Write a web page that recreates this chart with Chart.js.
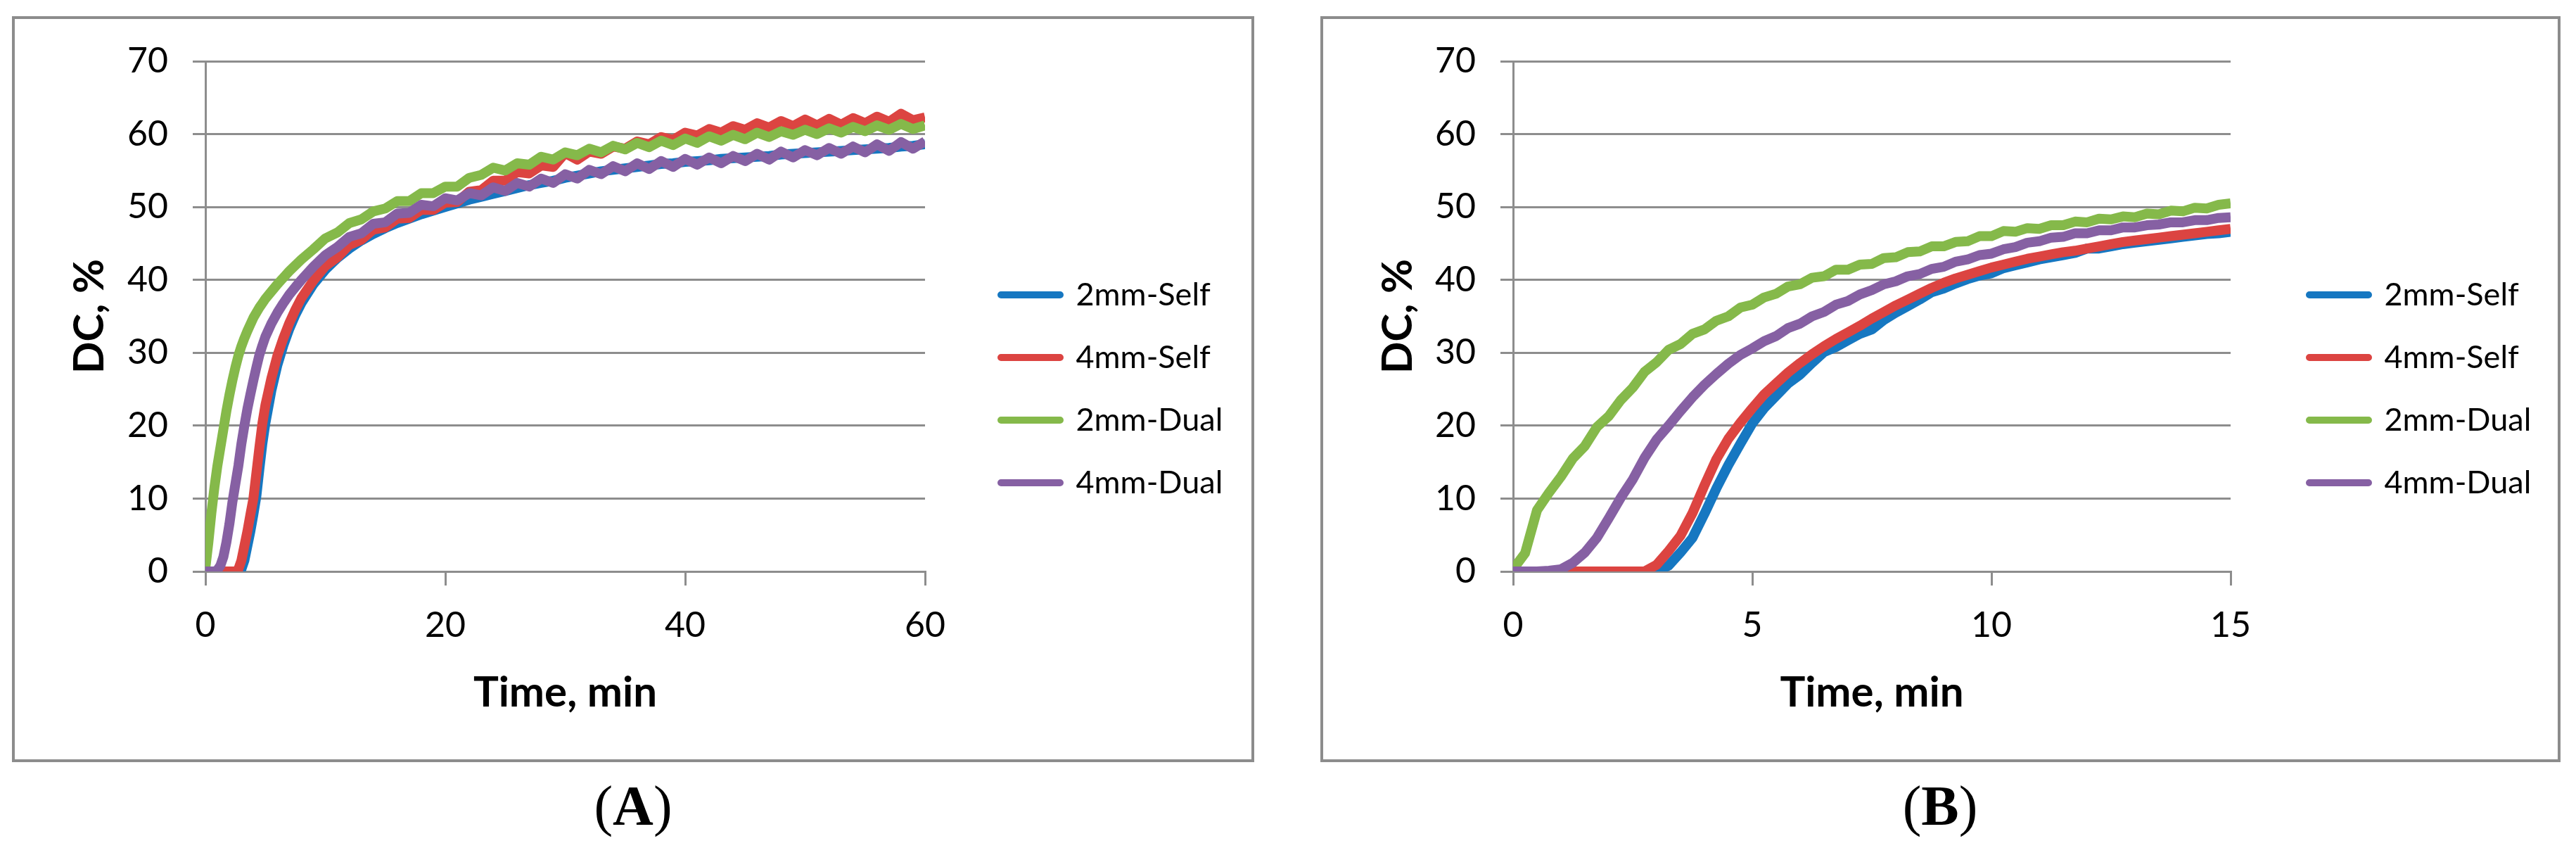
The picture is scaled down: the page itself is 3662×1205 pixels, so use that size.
<!DOCTYPE html>
<html>
<head>
<meta charset="utf-8">
<title>DC vs time</title>
<script src="https://cdn.jsdelivr.net/npm/chart.js@4.4.1/dist/chart.umd.min.js"></script>
<style>
  html, body { margin: 0; padding: 0; background: #fff; }
  body { width: 3662px; height: 1205px; position: relative; overflow: hidden; }
  .frame { position: absolute; top: 23px; height: 1052px; border: 4px solid #8c8c8c; background: #fff; }
  #frameA { left: 17px; width: 1758px; }
  #frameB { left: 1877px; width: 1755px; }
  .frame canvas { position: absolute; left: 0; top: 0; }
  .caption { position: absolute; top: 1105px; width: 400px; text-align: center; color: #000;
             font-family: "Liberation Serif", "Times New Roman", serif; font-size: 80px; line-height: 1; }
  #capA { left: 700px; }
  #capB { left: 2558px; }
</style>
</head>
<body>
<div class="frame" id="frameA"><canvas id="chartA" width="1758" height="995"></canvas></div>
<div class="frame" id="frameB"><canvas id="chartB" width="1755" height="995"></canvas></div>
<div class="caption" id="capA">(<b>A</b>)</div>
<div class="caption" id="capB">(<b>B</b>)</div>
<script>
// series
const seriesNames = ["2mm-Self", "4mm-Self", "2mm-Dual", "4mm-Dual"];
const seriesColors = ["#1677c1", "#dc4441", "#85b94a", "#8660a3"];

// axis ticks
const yTicks = [0, 10, 20, 30, 40, 50, 60, 70];
const xTicksA = [0, 20, 40, 60];
const xTicksB = [0, 5, 10, 15];

// panel A - time, min
const timeA = [0, 0.25, 0.5, 0.75, 1, 1.25, 1.5, 1.75, 2, 2.25, 2.5, 2.75, 3, 3.25, 3.5, 3.75, 4, 4.25, 4.5, 4.75, 5,
  5.5, 6, 6.5, 7, 7.5, 8,
  9, 10, 11, 12, 13, 14, 15, 16, 17, 18, 19, 20, 21, 22, 23, 24, 25, 26, 27, 28, 29, 30,
  31, 32, 33, 34, 35, 36, 37, 38, 39, 40, 41, 42, 43, 44, 45, 46, 47, 48, 49, 50,
  51, 52, 53, 54, 55, 56, 57, 58, 59, 60];

// panel A - DC, %
const self2A = [0, 0, 0, 0, 0, 0, 0, 0, 0, 0, 0, 0, 0.3, 1.5, 3.5, 5.5, 7.8, 10.3, 14, 17.5, 20.3,
  24.8, 28.3, 31, 33.3, 35.2, 36.8,
  39.4, 41.4, 43, 44.3, 45.4, 46.3, 47.1, 47.8, 48.4, 49, 49.5, 50,
  50.5, 51, 51.4, 51.8, 52.2, 52.6, 53, 53.3, 53.6, 54,
  54.3, 54.6, 54.9, 55.1, 55.3, 55.5, 55.7, 55.9, 56, 56.2,
  56.3, 56.4, 56.6, 56.7, 56.8, 56.9, 57, 57.2, 57.3, 57.4,
  57.5, 57.6, 57.7, 57.8, 57.9, 58, 58.1, 58.3, 58.4, 58.6];
const self4A = [0, 0, 0, 0, 0, 0, 0, 0, 0, 0, 0, 0.3, 1.5, 3.5, 5.5, 7.8, 10, 13.5, 17, 20.3, 22.8,
  26.5, 29.6, 32, 34.1, 35.9, 37.5,
  39.9, 41.9, 43.1, 44.8, 45.5, 46.9, 47.2, 48.4, 48.5, 49.6, 49.6, 50.6,
  50.7, 52.1, 52.3, 53.6, 53.6, 54.8, 54.6, 55.7, 55.5, 57.4,
  56.5, 57.6, 57.3, 58.3, 58, 59, 58.6, 59.6, 59.2, 60.2,
  59.8, 60.7, 60.2, 61.1, 60.6, 61.5, 60.9, 61.8, 61.1, 62,
  61.2, 62.1, 61.3, 62.2, 61.5, 62.4, 61.7, 62.8, 61.9, 62.3];
const dual2A = [0.5, 4, 8, 11.5, 14.5, 17, 19.5, 22, 24.2, 26.2, 28, 29.6, 30.9, 32, 33, 33.9, 34.8, 35.5, 36.2, 36.8, 37.4,
  38.4, 39.4, 40.3, 41.2, 42, 42.8,
  44.2, 45.7, 46.5, 47.8, 48.3, 49.4, 49.8, 50.8, 50.8, 51.9, 51.9, 52.8,
  52.8, 54, 54.4, 55.4, 55, 56, 55.8, 56.9, 56.5, 57.5,
  57.1, 58, 57.5, 58.4, 57.9, 58.8, 58.2, 59.1, 58.5, 59.4,
  58.8, 59.7, 59.1, 59.9, 59.3, 60.2, 59.6, 60.4, 59.9, 60.6,
  60, 60.8, 60.2, 61, 60.4, 61.2, 60.6, 61.4, 60.7, 61.2];
const dual4A = [0, 0, 0, 0, 0.2, 0.8, 2, 4, 6.5, 9.5, 12, 14.5, 17.5, 20, 22.3, 24.3, 26.2, 28, 29.7, 31, 32.2,
  34, 35.5, 36.8, 38, 39, 40,
  41.8, 43.4, 44.5, 45.9, 46.4, 47.7, 47.9, 49.1, 49.2, 50.3, 50.1, 51.2,
  50.9, 51.9, 51.6, 52.7, 52.2, 53.3, 52.8, 53.9, 53.3, 54.5,
  53.9, 55.1, 54.5, 55.6, 54.9, 56, 55.2, 56.3, 55.5, 56.6,
  55.8, 56.8, 56, 57, 56.3, 57.3, 56.5, 57.6, 56.8, 57.8,
  57.1, 58.1, 57.3, 58.3, 57.5, 58.6, 57.7, 58.9, 58, 59];

// panel B - time, min
const timeB = [0, 0.25, 0.5, 0.75, 1, 1.25, 1.5, 1.75, 2, 2.25, 2.5, 2.75, 3, 3.25, 3.5, 3.75,
  4, 4.25, 4.5, 4.75, 5, 5.25, 5.5, 5.75, 6, 6.25, 6.5, 6.75, 7, 7.25, 7.5, 7.75,
  8, 8.25, 8.5, 8.75, 9, 9.25, 9.5, 9.75, 10, 10.25, 10.5, 10.75, 11, 11.25, 11.5, 11.75,
  12, 12.25, 12.5, 12.75, 13, 13.25, 13.5, 13.75, 14, 14.25, 14.5, 14.75, 15];

// panel B - DC, %
const self2B = [0, 0, 0, 0, 0, 0, 0, 0, 0, 0, 0, 0, 0,
  0.8, 2.6, 4.6, 7.9, 11.4, 14.6, 17.5, 20.3, 22.4, 24.1, 25.8, 27.0, 28.6, 30.1, 30.8,
  31.7, 32.6, 33.2, 34.5, 35.5, 36.4, 37.3, 38.3, 38.8, 39.5, 40.1, 40.6, 40.9, 41.6, 42.0,
  42.4, 42.8, 43.1, 43.4, 43.7, 44.3, 44.3, 44.6, 44.9, 45.1, 45.3, 45.5, 45.7, 45.9, 46.1,
  46.3, 46.4, 46.6];
const self4B = [0, 0, 0, 0, 0, 0, 0, 0, 0, 0, 0, 0,
  0.9, 2.8, 4.9, 8.0, 11.8, 15.4, 18.2, 20.4, 22.4, 24.3, 25.8, 27.3, 28.6, 29.8, 30.9,
  31.9, 32.8, 33.7, 34.7, 35.6, 36.5, 37.3, 38.1, 38.9, 39.6, 40.2, 40.7, 41.2, 41.7, 42.1,
  42.5, 42.9, 43.2, 43.5, 43.8, 44.0, 44.3, 44.6, 44.9, 45.2, 45.4, 45.6, 45.8, 46.0, 46.2,
  46.4, 46.6, 46.8, 47.0];
const dual2B = [0.3, 2.5, 8.4, 10.8, 13.0, 15.5, 17.2, 19.8, 21.3, 23.5, 25.2, 27.4, 28.7, 30.4, 31.2, 32.6,
  33.2, 34.4, 35.0, 36.2, 36.6, 37.6, 38.1, 39.1, 39.4, 40.3, 40.5, 41.4, 41.4, 42.1, 42.2, 43.0,
  43.1, 43.8, 43.9, 44.6, 44.6, 45.2, 45.3, 46.0, 46.0, 46.7, 46.6, 47.1, 47.0, 47.5, 47.5, 48.0,
  47.9, 48.4, 48.3, 48.7, 48.6, 49.1, 49.0, 49.5, 49.4, 49.9, 49.8, 50.3, 50.5];
const dual4B = [0, 0, 0, 0.1, 0.3, 1.2, 2.6, 4.6, 7.3, 10.1, 12.6, 15.6, 18.1, 20.0, 22.0, 23.9,
  25.6, 27.1, 28.5, 29.7, 30.6, 31.6, 32.3, 33.4, 34.0, 35.0, 35.6, 36.6, 37.1, 38.0, 38.6, 39.4,
  39.8, 40.5, 40.8, 41.5, 41.8, 42.5, 42.8, 43.4, 43.6, 44.2, 44.5, 45.1, 45.3, 45.8, 45.9, 46.4,
  46.4, 46.8, 46.8, 47.2, 47.2, 47.5, 47.6, 47.9, 47.9, 48.2, 48.2, 48.5, 48.6];

const gridColor = "#8d8d8d";

function makePanel(canvasId, times, values, xTicks, geo) {
  const datasets = seriesNames.map((name, i) => ({
    label: name,
    data: times.map((t, j) => ({ x: t, y: values[i][j] })),
    borderColor: seriesColors[i],
    backgroundColor: seriesColors[i],
    borderWidth: 14,
    borderJoinStyle: "round",
    pointRadius: 0,
    fill: false,
    tension: 0,
    order: seriesNames.length - 1 - i   // last series on top, like the original
  }));

  const tickFont = { family: "Lato", size: 50, lineHeight: 1 };
  const titleFont = { family: "Lato", size: 60, weight: "bold", lineHeight: 1 };

  const chart = new Chart(document.getElementById(canvasId), {
    type: "line",
    data: { datasets: datasets },
    options: {
      responsive: false,
      animation: false,
      devicePixelRatio: 1,
      layout: { padding: { left: 0, top: 56, right: 0, bottom: 0 } },
      plugins: {
        tooltip: { enabled: false },
        legend: {
          position: "right",
          maxWidth: 420,
          labels: {
            boxWidth: 84,
            boxHeight: 0,
            padding: 44,
            color: "#000",
            font: { family: "Lato", size: 45 },
            sort: (a, b) => a.datasetIndex - b.datasetIndex,
            generateLabels: (chart) => {
              const items = Chart.defaults.plugins.legend.labels.generateLabels(chart);
              items.forEach(it => {
                it.lineWidth = 10;
                it.lineJoin = "round";
                it.lineCap = "round";
              });
              return items;
            }
          }
        }
      },
      scales: {
        x: {
          type: "linear",
          min: xTicks[0],
          max: xTicks[xTicks.length - 1],
          ticks: { stepSize: xTicks[1] - xTicks[0], padding: 32, color: "#000", font: tickFont },
          grid: { drawOnChartArea: false, drawTicks: true, tickLength: 20, color: gridColor, lineWidth: 3 },
          border: { display: true, color: gridColor, width: 3 },
          title: { display: true, text: "Time, min", color: "#000", font: titleFont, padding: { top: 0, bottom: 7 } },
          afterFit: (scale) => { scale.height = 210; }
        },
        y: {
          type: "linear",
          min: yTicks[0],
          max: yTicks[yTicks.length - 1],
          ticks: { stepSize: yTicks[1] - yTicks[0], padding: 35, color: "#000", font: tickFont },
          grid: { color: gridColor, lineWidth: 3, tickLength: 18 },
          border: { display: true, color: gridColor, width: 3 },
          title: { display: true, text: "DC, %", color: "#000", font: titleFont, padding: { top: 77, bottom: 0 } },
          afterFit: (scale) => { scale.width = geo.yWidth; }
        },
        // empty spacer between plot and legend
        gap: {
          type: "linear",
          axis: "y",
          position: "right",
          grid: { display: false },
          ticks: { display: false },
          border: { display: false },
          afterFit: (scale) => { scale.width = geo.gap; }
        }
      }
    }
  });

  // legend width depends on the text, so set the right padding once it is known
  const shift = chart.chartArea.right - geo.plotRight;
  if (shift !== 0) {
    chart.options.layout.padding.right = Math.max(0, shift);
    chart.update();
  }
  return chart;
}

makePanel("chartA", timeA, [self2A, self4A, dual2A, dual4A], xTicksA, { yWidth: 271, gap: 64, plotRight: 1294 });
makePanel("chartB", timeB, [self2B, self4B, dual2B, dual4B], xTicksB, { yWidth: 270, gap: 68, plotRight: 1290 });
</script>
</body>
</html>
